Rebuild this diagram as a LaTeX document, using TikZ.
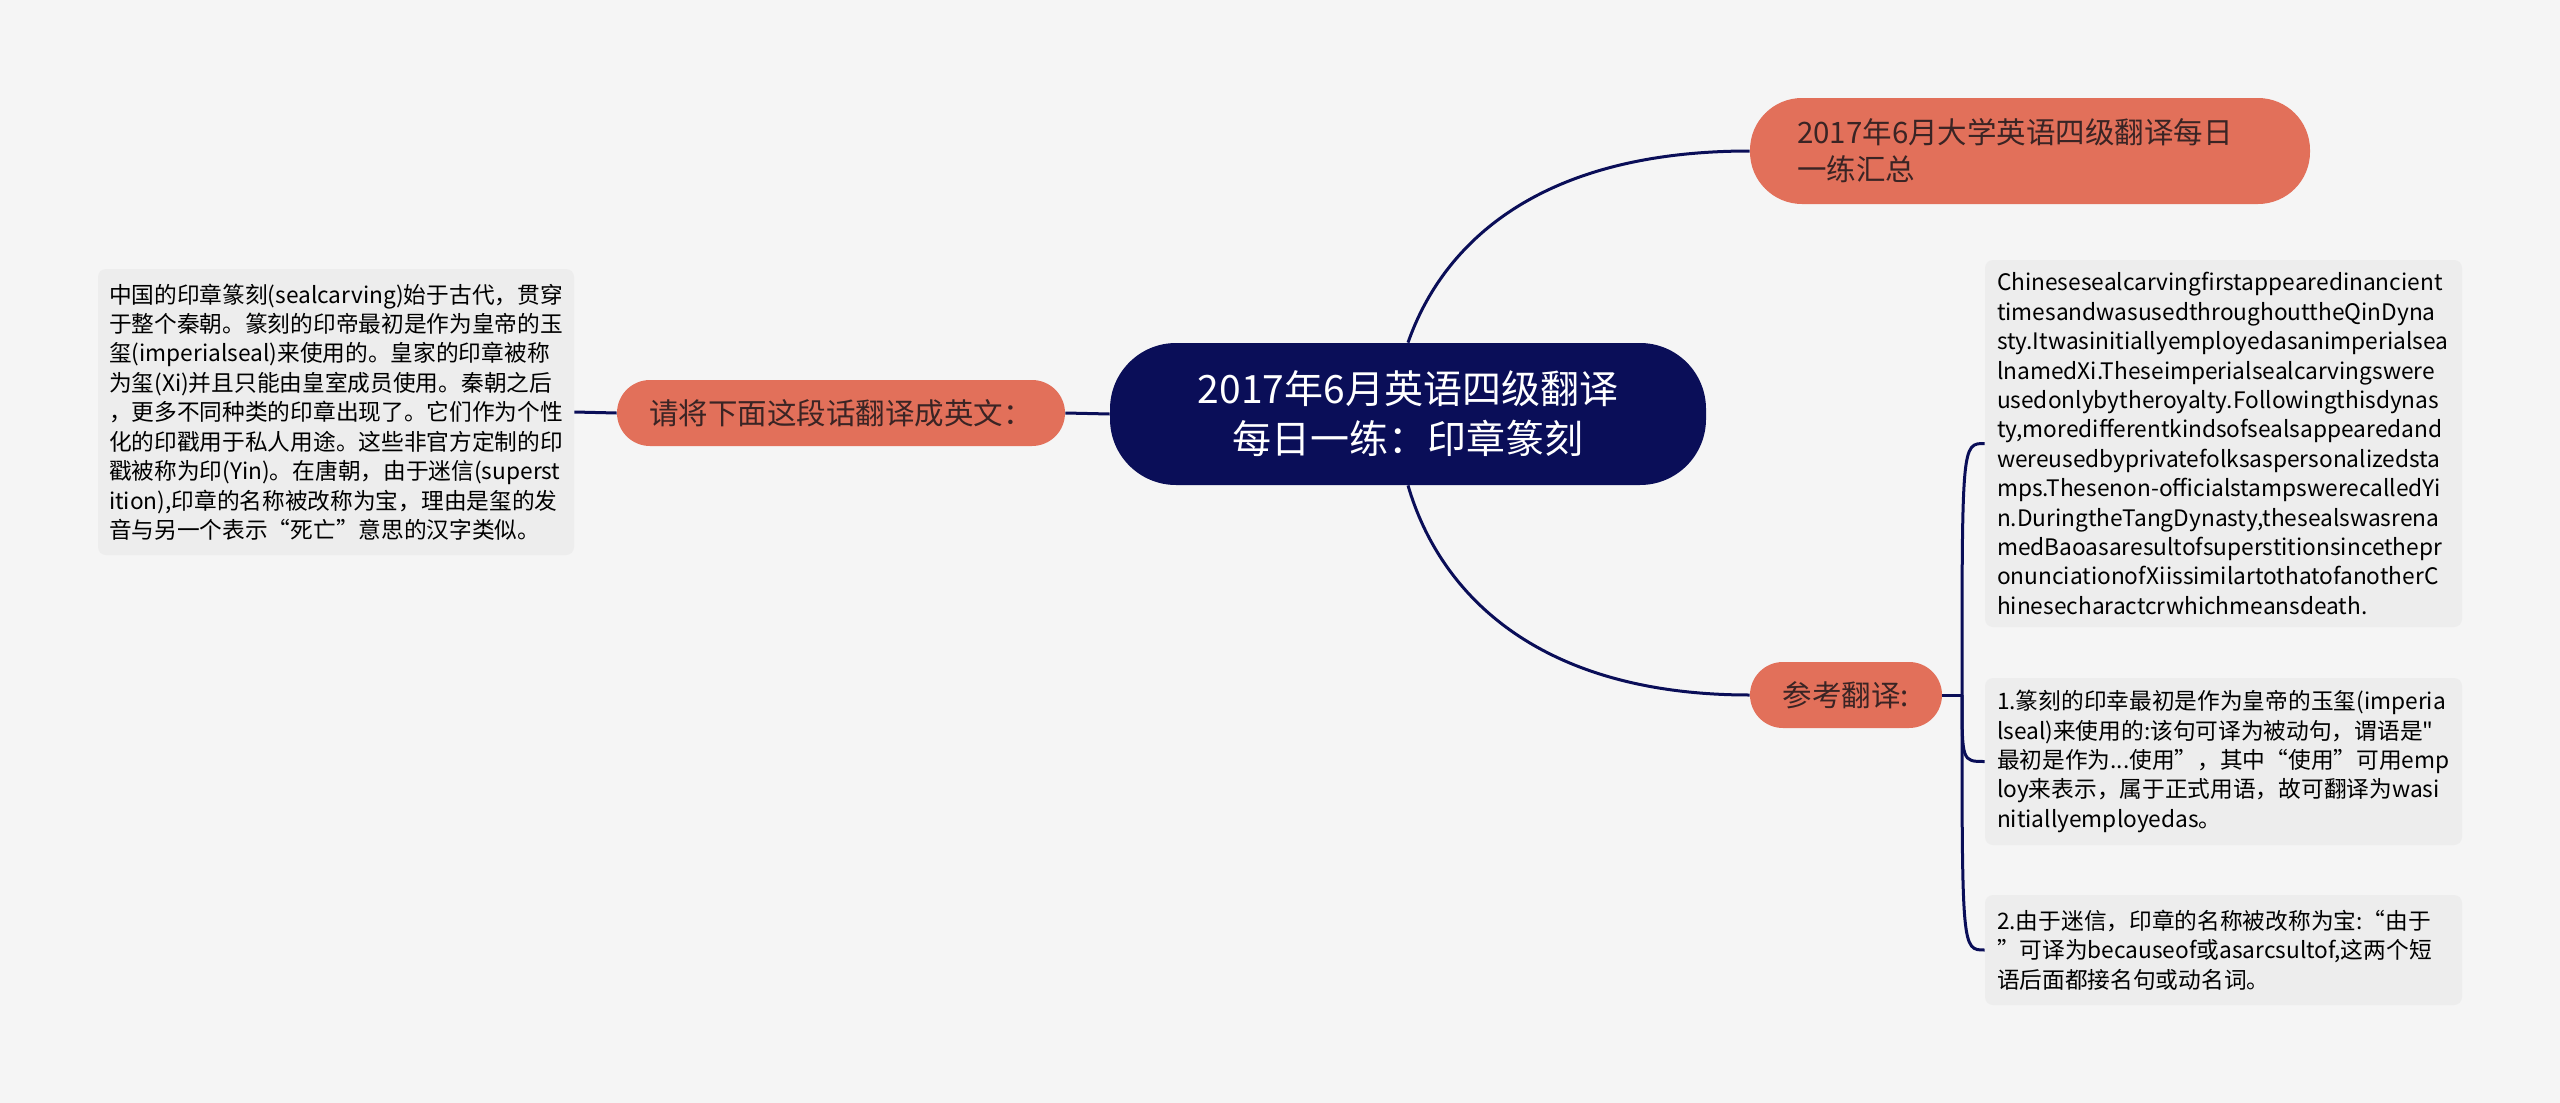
\documentclass[tikz,border=0pt]{standalone}
\usepackage{fontspec}
\setmainfont{Noto Sans CJK SC}[Ligatures=TeXOff]
\usetikzlibrary{positioning}
\definecolor{deepblue}{HTML}{0A0E58}
\definecolor{salmon}{HTML}{E2705A}
\definecolor{darktext}{HTML}{3A2424}
\definecolor{boxgray}{HTML}{EDEDED}
\definecolor{bgcol}{HTML}{F5F5F5}
\tikzset{
    rootnode/.style={fill=deepblue, text=white, rounded corners=33pt, minimum width=298pt,
    minimum height=71pt, align=center, font=\fontsize{19.5pt}{25pt}\selectfont
  },
  topic/.style={
    fill=salmon, text=darktext, minimum height=33pt, rounded corners=16.5pt,
    font=\fontsize{14.75pt}{18.5pt}\selectfont
  },
  textbox/.style={
    fill=boxgray, rounded corners=4pt, align=left, inner xsep=6pt,
    font=\fontsize{11.35pt}{14.7pt}\selectfont
  },
  link/.style={
    draw=deepblue, line width=1.5pt
  }
}

\begin{document}
\begin{tikzpicture}[x=0.5pt, y=-0.5pt]
   \fill[bgcol] (0,0) rectangle (2560,1103);

   \node[rootnode] (root) at (1408, 414) {2017年6月英语四级翻译\\每日一练：印章篆刻};
   \node[topic, minimum width=280pt, minimum height=53pt, rounded corners=26pt,
     text width=233pt, align=left] (sum) at (2030, 151) {2017年6月大学英语四级翻译每日\\一练汇总};
   \node[topic, minimum width=224pt] (ask) at (841, 413) {请将下面这段话翻译成英文：};
   \node[topic, minimum width=96pt] (ref) at (1846, 695) {参考翻译:};

   \node[textbox, text width=227pt, inner xsep=5.5pt, minimum height=143pt] (orig) at (336, 412) {%
     中国的印章篆刻(sealcarving)始于古代，贯穿\\
     于整个秦朝。篆刻的印帝最初是作为皇帝的玉\\
     玺(imperialseal)来使用的。皇家的印章被称\\
     为玺(Xi)并且只能由皇室成员使用。秦朝之后\\
     ，更多不同种类的印章出现了。它们作为个性\\
     化的印戳用于私人用途。这些非官方定制的印\\
     戳被称为印(Yin)。在唐朝，由于迷信(superst\\
     ition),印章的名称被改称为宝，理由是玺的发\\
     音与另一个表示“死亡”意思的汉字类似。};
   \node[textbox, text width=226.5pt, minimum height=183.5pt] (eng) at (2223.5, 443.5) {%
     Chinesesealcarvingfirstappearedinancient\\
     timesandwasusedthroughouttheQinDyna\\
     sty.Itwasinitiallyemployedasanimperialsea\\
     lnamedXi.Theseimperialsealcarvingswere\\
     usedonlybytheroyalty.Followingthisdynas\\
     ty,moredifferentkindsofsealsappearedand\\
     wereusedbyprivatefolksaspersonalizedsta\\
     mps.Thesenon-officialstampswerecalledYi\\
     n.DuringtheTangDynasty,thesealswasrena\\
     medBaoasaresultofsuperstitionsincethepr\\
     onunciationofXiissimilartothatofanotherC\\
     hinesecharactcrwhichmeansdeath.};
   \node[textbox, text width=226.5pt, minimum height=83.5pt] (note1) at (2223.5, 761.5) {%
     1.篆刻的印幸最初是作为皇帝的玉玺(imperia\\
     lseal)来使用的:该句可译为被动句，谓语是"\\
     最初是作为...使用”，其中“使用”可用emp\\
     loy来表示，属于正式用语，故可翻译为wasi\\
     nitiallyemployedas。};
   \node[textbox, text width=226.5pt, minimum height=55pt] (note2) at (2223.5, 950) {%
     2.由于迷信，印章的名称被改称为宝:“由于\\
     ”可译为becauseof或asarcsultof,这两个短\\
     语后面都接名句或动名词。};

   \coordinate (j) at (1962, 695);

   \draw[link] (root.west) -- (ask.east);
   \draw[link] (ask.west) -- (orig.east);
   \draw[link] (root.north) .. controls +(35,-100) and +(-210,0) .. (sum.west);
   \draw[link] (root.south) .. controls +(32,110) and +(-210,0) .. (ref.west);
   \draw[link] (ref.east) -- (j);
   \draw[link] (j) .. controls (j |- eng.west) and (j |- eng.west) .. (eng.west);
   \draw[link] (j) .. controls (j |- note1.west) and (j |- note1.west) .. (note1.west);
   \draw[link] (j) .. controls (j |- note2.west) and (j |- note2.west) .. (note2.west);
\end{tikzpicture}
\end{document}
